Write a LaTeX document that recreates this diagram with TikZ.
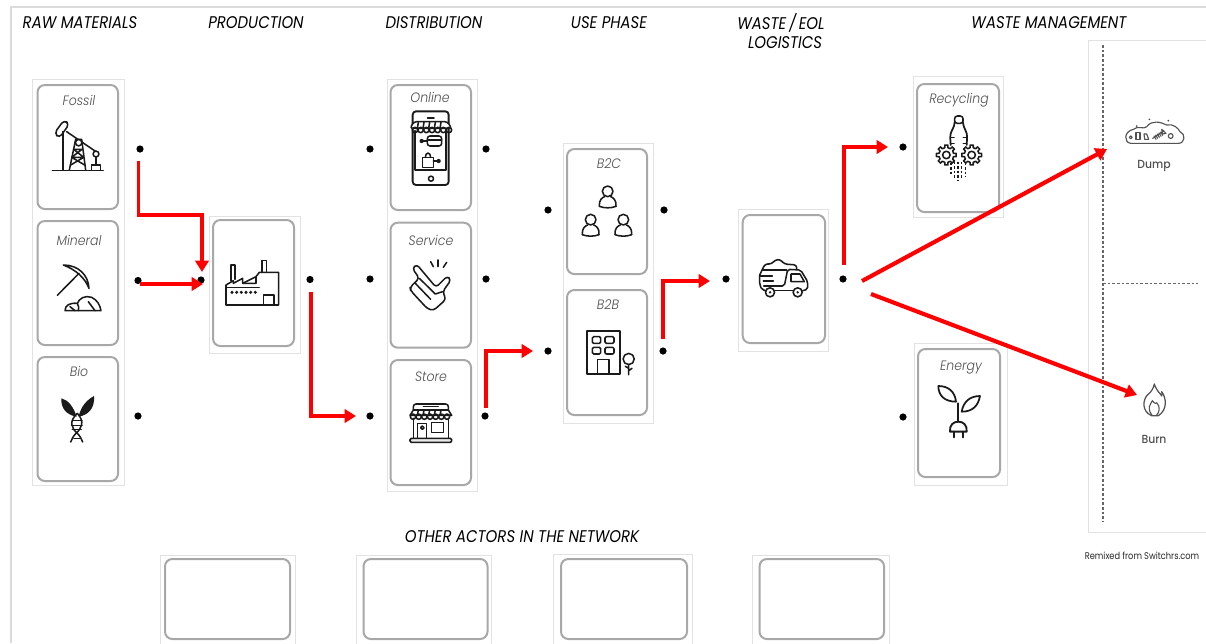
\documentclass[tikz,border=0pt]{standalone}
\usepackage{fontspec}
\setmainfont{Poppins}
\newfontfamily\headf[FakeStretch=0.88]{Poppins}
\newfontfamily\cardf[FakeStretch=0.92]{Poppins Light}
\newfontfamily\smallf[FakeStretch=0.85]{Poppins}
\newfontfamily\tagf[FakeStretch=0.92]{Poppins Medium}
\usetikzlibrary{arrows.meta}
\definecolor{cardgray}{HTML}{A8A8A8}
\definecolor{framegray}{HTML}{E2E2E2}
\definecolor{labgray}{HTML}{505050}
\definecolor{iconink}{HTML}{1A1A1A}
\tikzset{
 card/.style={draw=cardgray,line width=1.5pt,rounded corners=5.5pt,fill=white,inner sep=0pt,outer sep=0pt,anchor=north west},
 framebox/.style={draw=framegray,line width=0.6pt,fill=white,inner sep=0pt,outer sep=0pt,anchor=north west},
 hd/.style={font=\headf\itshape\fontsize{12.7}{15}\selectfont,text=black,inner sep=0pt,align=center},
 lab/.style={font=\cardf\itshape\fontsize{10.2}{12}\selectfont,text=labgray,inner sep=0pt},
 sm/.style={font=\smallf\fontsize{7.3}{9}\selectfont,text=black!85,inner sep=0pt},
 tagl/.style={font=\tagf\fontsize{8.8}{10}\selectfont,text=labgray,inner sep=0pt},
 pin/.style={circle,fill=black,inner sep=0pt,minimum size=5.4pt},
 flow/.style={draw=red,line width=2.8pt,-{Triangle[length=8.5pt,width=10pt]},miter limit=4},
 flowd/.style={flow,line width=3.1pt},
 ic/.style={draw=iconink,line width=1.15pt,line join=round,line cap=round},
 icthin/.style={draw=iconink!75,line width=.85pt,line join=round,line cap=round},
 divider/.style={draw=black!60,line width=0.9pt,dash pattern=on 2pt off 1.5pt},
 zoomone/.style={shift={(20,70)},x=.25pt,y=-.25pt},
 zoomtwo/.style={shift={(370,70)},x=.25pt,y=-.25pt},
 zoomthree/.style={shift={(720,30)},x=.25pt,y=-.25pt},
}
\newcommand{\fbx}[5]{\node[framebox,minimum width=#4*.75pt,minimum height=#5*.75pt] (#1) at (#2,#3) {};}
\newcommand{\crd}[5]{\node[card,minimum width=#4*.75pt,minimum height=#5*.75pt] (#1) at (#2,#3) {};}
\begin{document}
\begin{tikzpicture}[x=.75pt,y=-.75pt]
\useasboundingbox (0,0) rectangle (1206,643);
\fill[white] (0,0) rectangle (1206,643);
% outer sheet edge
\coordinate (ruleB) at (11,643); \coordinate (ruleL) at (11,7); \coordinate (ruleR) at (1206,7);
\draw[draw=black!14,line width=1.5pt] (ruleB) -- (ruleL) -- (ruleR);
% frames
\fbx{fA}{32}{79}{92.5}{406}
\fbx{fB}{209.5}{216}{90.5}{137}
\fbx{fC}{387}{79}{90}{412}
\fbx{fD}{563.5}{143.5}{89.5}{279.5}
\fbx{fE}{738.5}{209.5}{89.5}{141.5}
\fbx{fF}{913}{76.5}{90}{140.5}
\fbx{fG}{914}{343}{93}{142}
\fbx{fO}{160}{555}{135}{90}
\fbx{fP}{356}{555}{135}{90}
\fbx{fQ}{553}{554}{139}{91}
\fbx{fR}{752}{555}{137}{90}
\coordinate (wmA) at (1206,40); \coordinate (wmB) at (1088.5,40); \coordinate (wmC) at (1088.5,532); \coordinate (wmD) at (1206,532);
\draw[framegray,line width=.6pt] (wmA) -- (wmB) -- (wmC) -- (wmD);
% cards
\crd{fossil}{37.5}{85}{80.5}{124}
\crd{mineral}{37.5}{221}{80.5}{124}
\crd{bio}{37.5}{357}{80.5}{124}
\crd{factory}{213}{220}{81}{126}
\crd{online}{390.5}{85}{80.5}{125}
\crd{service}{390.5}{222.7}{80.5}{125}
\crd{store}{390.5}{360}{80.5}{125}
\crd{btc}{567}{149}{80}{125}
\crd{btb}{567}{290}{80}{125}
\crd{truck}{742.7}{215}{82.3}{128}
\crd{recycling}{917}{84}{82}{128}
\crd{energy}{918}{349}{82}{128}
\crd{oa}{165}{559}{125}{80}
\crd{ob}{363.5}{559}{124}{80}
\crd{oc}{561}{559}{126}{80}
\crd{od}{759.5}{559}{124.5}{80}
% headers
\node[hd] (h1) at (80,23) {RAW MATERIALS};
\node[hd] (h2) at (256,23) {PRODUCTION};
\node[hd] (h3) at (434,23) {DISTRIBUTION};
\node[hd] (h4) at (609,23) {USE PHASE};
\node[hd] (h5) at (781,23) {\spaceskip=.16em WASTE / EOL};
\node[hd] (h5b) at (785,43) {LOGISTICS};
\node[hd] (h6) at (1049,23) {WASTE MANAGEMENT};
\node[hd] (h7) at (522,537) {OTHER ACTORS IN THE NETWORK};
\node[sm] (credit) at (1142,556) {Remixed from Switchrs.com};
% card labels
\node[lab] (l1) at (79,100) {Fossil};
\node[lab] (l2) at (79,240) {Mineral};
\node[lab] (l3) at (79,371) {Bio};
\node[lab] (l4) at (430,97) {Online};
\node[lab] (l5) at (431,240) {Service};
\node[lab] (l6) at (431,377) {Store};
\node[lab] (l7) at (609,164) {B2C};
\node[lab] (l8) at (608,305) {B2B};
\node[lab] (l9) at (959,100) {Recycling};
\node[lab] (l10) at (961,368) {Energy};
\node[tagl] (dumpl) at (1154,166) {Dump};
\node[tagl] (burnl) at (1154,439) {Burn};
% dots
\foreach \n/\x/\y in {a/140/149,b/138/280.5,c/138/416,d/201/280,e/310/279.5,f/370/149,g/370/279,h/370/416,i/486/149,j/486/279,k/485/416,l/548/210,m/664/210,n/548/351,o/663/351,p/726/279,q/843/279,r/903/147,s/903/417}
  \node[pin] (dot\n) at (\x,\y) {};
% dividers
\coordinate (dvT) at (1103,45); \coordinate (dvB) at (1103,522); \coordinate (dvM) at (1103,283.5); \coordinate (dvR) at (1198,283.5);
\draw[divider] (dvT) -- (dvB);
\draw[divider] (dvM) -- (dvR);
% ---------- icons ----------
% oil pump
\begin{scope}[zoomone]
\draw[ic] (97,301) -- (250,301);
\draw[ic,line width=1.3pt] (128,185) -- (128,300);
\draw[ic,rounded corners=3pt] (103,190) -- (132,150) -- (148,162) -- (118,204) -- cycle;
\draw[ic] (140,185) -- (228,245);
\draw[ic] (148,300) -- (167,208) -- (185,208) -- (197,300);
\draw[ic] (155,262) -- (191,262) (161,238) -- (186,238) (152,285) -- (191,262) (155,262) -- (194,285) (161,238) -- (191,262) (186,238) -- (155,262);
\draw[ic,fill=white] (176,218) circle (2.4pt);
\draw[ic,fill=white] (228,252) circle (2.2pt);
\draw[ic] (228,260) -- (228,285);
\draw[ic] (215,300) -- (215,285) -- (241,285) -- (241,300);
\end{scope}
% pickaxe
\begin{scope}[zoomone]
\draw[ic] (112,676) -- (177,610);
\draw[ic] (130,585) .. controls (175,585) and (205,615) .. (207,655) .. controls (195,625) and (170,600) .. (130,585) -- cycle;
\draw[ic] (135,722) .. controls (135,705) and (150,698) .. (172,700) .. controls (178,685) and (195,675) .. (215,682) .. controls (232,690) and (240,705) .. (243,722) -- cycle;
\draw[ic] (172,700) .. controls (176,708) and (178,715) .. (175,722);
\draw[ic] (205,695) -- (225,722) (150,710) -- (165,722);
\end{scope}
% bio dna
\begin{scope}[zoomone]
\fill[iconink] (170,1040) .. controls (160,1010) and (145,990) .. (124,985) .. controls (122,1015) and (140,1035) .. (170,1040) -- cycle;
\fill[iconink] (176,1040) .. controls (182,1010) and (200,990) .. (222,978) .. controls (225,1015) and (205,1035) .. (176,1040) -- cycle;
\draw[ic] (172,1030) .. controls (145,1055) and (155,1075) .. (172,1090) .. controls (180,1098) and (185,1108) .. (188,1116);
\draw[ic] (172,1030) .. controls (195,1055) and (185,1075) .. (168,1090) .. controls (160,1098) and (155,1108) .. (152,1116);
\draw[ic] (158,1052) -- (186,1052) (155,1066) -- (186,1066) (157,1079) -- (184,1079) (162,1105) -- (180,1105);
\end{scope}
% factory
\begin{scope}[zoomone]
\draw[ic] (618,705) -- (776,705) -- (776,607) -- (718,607) -- (708,620) -- (708,640) -- (668,640) -- (668,625) -- (640,640) -- (640,632) -- (618,645) -- cycle;
\draw[ic] (668,640) -- (708,620);
\draw[ic] (633,632) -- (633,585) -- (645,585) -- (645,628);
\draw[ic] (726,607) -- (726,572) -- (740,572) -- (740,607);
\draw[ic] (618,652) -- (718,652);
\draw[ic] (730,705) -- (730,675) -- (762,675) -- (762,705);
\foreach \dx in {636,650,664,678,692,706} \fill[iconink] (\dx,667) circle (1.3pt);
\end{scope}
% online phone
\begin{scope}[zoomtwo]
\draw[ic,line width=1.4pt,rounded corners=2.5pt] (128,124) rectangle (236,345);
\draw[ic] (135,182) -- (135,300) -- (228,300) -- (228,182);
\draw[ic,line width=1.3pt] (173,143) -- (192,143);
\draw[ic] (183,326) circle (1.9pt);
\draw[ic,fill=white,rounded corners=2pt] (132,155) -- (232,155) -- (245,175) -- (120,175) -- cycle;
\foreach \dx in {128,145,162,179,196,213,230} \draw[ic] (\dx+7,180) circle (2pt);
\foreach \dx in {145,162,179,196,213} \draw[ic] (\dx,157) -- (\dx-3,175);
\draw[ic,rounded corners=2pt] (172,198) rectangle (215,228);
\draw[ic] (172,210) -- (215,210);
\fill[iconink] (155,213) circle (1.6pt);
\draw[ic] (158,213) -- (172,213);
\draw[ic] (158,262) -- (190,262) -- (190,293) -- (158,293) -- cycle;
\draw[ic] (166,262) .. controls (166,245) and (182,245) .. (182,262);
\fill[iconink] (206,273) circle (1.6pt);
\draw[ic] (190,273) -- (206,273);
\end{scope}
% service hand
\begin{scope}[zoomtwo]
\draw[ic,rounded corners=2.5pt] (127,595) -- (140,583) -- (198,652) -- (232,618) -- (243,630) -- (218,665) -- (228,688) -- (190,722) -- (172,716) -- (122,662) -- (120,652) -- (134,638) -- (148,625) -- cycle;
\draw[ic] (134,638) -- (182,688) (148,625) -- (196,672) (196,672) -- (218,665);
\draw[ic] (182,575) -- (190,590) (204,570) -- (204,590) (230,577) -- (220,592);
\end{scope}
% store
\begin{scope}[zoomtwo]
\draw[ic,rounded corners=2pt] (130,1020) -- (130,1002) -- (235,1002) -- (235,1020);
\draw[ic,line width=1.2pt] (160,1010) -- (205,1010);
\draw[ic,fill=white] (130,1020) -- (235,1020) -- (245,1036) -- (120,1036) -- cycle;
\foreach \dx in {145,162,179,196,213} \draw[ic] (\dx,1020) -- (\dx-3,1036);
\foreach \dx in {129,146,163,180,197,214,231} \draw[ic] (\dx,1040) circle (2pt);
\draw[ic] (130,1045) -- (130,1105) (235,1045) -- (235,1105);
\draw[ic] (143,1105) -- (143,1060) -- (170,1060) -- (170,1105);
\draw[ic] (157,1073) circle (1.3pt);
\draw[ic] (185,1058) rectangle (220,1088);
\draw[ic,fill=iconink!10,rounded corners=1pt] (120,1105) rectangle (245,1117);
\end{scope}
% b2c people
\begin{scope}[zoomtwo]
\foreach \px/\py in {713/347,662/432,760/432}{
  \draw[ic] (\px,\py+17) circle (4pt);
  \draw[ic] (\px-25,\py+62) .. controls (\px-27,\py+42) and (\px-15,\py+35) .. (\px-9,\py+33) (\px+9,\py+33) .. controls (\px+15,\py+35) and (\px+27,\py+42) .. (\px+25,\py+62);
  \draw[ic] (\px-25,\py+62) .. controls (\px-10,\py+68) and (\px+10,\py+68) .. (\px+25,\py+62);
}
\end{scope}
% b2b building
\begin{scope}[zoomtwo]
\draw[ic,line width=1.3pt] (650,912) -- (650,782) -- (750,782) -- (750,912) -- cycle;
\draw[ic,rounded corners=1pt] (667,800) rectangle (692,820) (705,800) rectangle (732,820) (667,832) rectangle (692,852) (705,832) rectangle (732,852);
\draw[ic] (682,912) -- (682,868) -- (717,868) -- (717,912);
\draw[ic] (776,867) circle (4.2pt);
\draw[ic] (776,884) -- (776,914) (776,902) -- (786,895) (776,895) -- (766,889);
\end{scope}
% truck
\begin{scope}[shift={(755,250)},x=.25pt,y=-.25pt]
\draw[ic,rounded corners=1.5pt] (14,75) -- (14,105) -- (22,120) -- (32,122);
\draw[ic] (58,122) -- (113,122);
\draw[ic,rounded corners=1.5pt] (143,122) -- (158,118) -- (158,95) -- (137,60) -- (98,58) -- (88,108) -- (26,108);
\draw[ic,rounded corners=2pt] (14,75) -- (30,42) -- (50,42) -- (60,30) -- (75,28) -- (88,42) -- (125,45) -- (125,58);
\draw[ic] (22,60) -- (95,60) (14,78) -- (52,78) (25,93) -- (55,93);
\draw[ic] (108,72) -- (135,72) -- (148,95) -- (108,95) -- cycle;
\draw[ic] (45,127) circle (3.4pt) (128,127) circle (3.4pt);
\fill[iconink] (45,127) circle (1pt) (128,127) circle (1pt);
\end{scope}
% recycling
\begin{scope}[zoomthree]
\draw[ic,rounded corners=2pt] (704,258) rectangle (729,280);
\draw[ic,line width=1.3pt,rounded corners=3pt] (704,280) -- (704,288) -- (690,310) -- (692,345);
\draw[ic,line width=1.3pt,rounded corners=3pt] (729,280) -- (729,288) -- (742,310) -- (740,345);
\draw[ic] (692,322) -- (702,322) (692,340) -- (702,340) (740,322) -- (730,322) (740,340) -- (730,340);
\foreach \cx in {679,755}{
  \begin{scope}[shift={(\cx,375)}]
  \draw[ic,fill=white,line join=round] (-12:5.6pt) \foreach \a in {0,45,...,315}{ -- (\a-12:5.6pt) -- (\a-9:7.5pt) -- (\a+9:7.5pt) -- (\a+12:5.6pt)} -- cycle;
  \draw[ic] (0,0) circle (2.8pt);
  \end{scope}
}
\foreach \dx/\ya/\yb in {693/398/438,703/395/445,714/395/450,725/395/448,736/398/442}
  \draw[ic,dash pattern=on 2pt off 1.4pt,line cap=butt] (\dx,\ya) -- (\dx,\yb);
\end{scope}
% energy
\begin{scope}[zoomthree]
\draw[ic,line width=1.3pt] (715,1120) -- (715,1175);
\draw[ic,line width=1.3pt] (708,1115) .. controls (705,1085) and (685,1068) .. (655,1068) .. controls (655,1095) and (672,1115) .. (708,1115) -- cycle;
\draw[ic,line width=1.3pt] (725,1145) .. controls (760,1145) and (775,1125) .. (780,1098) .. controls (750,1098) and (730,1115) .. (725,1145) -- cycle;
\draw[ic,line width=1.4pt] (690,1205) .. controls (688,1185) and (700,1175) .. (715,1175) .. controls (730,1175) and (742,1185) .. (740,1205) -- cycle;
\draw[ic,line width=1.4pt] (703,1205) -- (703,1222) (728,1205) -- (728,1222);
\end{scope}
% dump
\begin{scope}[zoomthree]
\draw[icthin] (1232,340) .. controls (1212,338) and (1210,305) .. (1240,298) .. controls (1255,285) and (1272,300) .. (1280,290) .. controls (1295,270) and (1320,275) .. (1340,285) .. controls (1360,280) and (1375,295) .. (1380,305) .. controls (1398,312) and (1395,340) .. (1375,340) -- cycle;
\draw[icthin] (1248,308) rectangle (1260,328);
\draw[icthin] (1272,312) -- (1280,312) -- (1286,328) -- (1274,328) -- cycle;
\draw[icthin] (1352,318) circle (1.8pt) (1232,322) circle (1.1pt);
\draw[icthin] (1298,325) -- (1332,302) (1325,298) -- (1338,310) -- (1328,312) -- cycle;
\foreach \t in {0,5,10,15,20} \draw[icthin] (1302+\t,318-\t*.6) -- (1308+\t,328-\t*.6);
\fill[iconink!80] (1288,268) circle (.7pt) (1250,288) circle (.7pt) (1345,272) circle (.7pt);
\end{scope}
% burn
\begin{scope}[zoomthree]
\draw[icthin,line width=.95pt] (1303,1062) .. controls (1310,1085) and (1322,1090) .. (1325,1098) .. controls (1328,1090) and (1325,1088) .. (1325,1085) .. controls (1340,1105) and (1342,1140) .. (1315,1157) -- (1295,1157) .. controls (1265,1145) and (1268,1110) .. (1282,1095) .. controls (1295,1085) and (1300,1075) .. (1303,1062) -- cycle;
\draw[icthin] (1296,1155) .. controls (1280,1135) and (1290,1125) .. (1297,1112) .. controls (1305,1125) and (1310,1118) .. (1310,1118) .. controls (1322,1130) and (1318,1148) .. (1310,1155);
\end{scope}
% ---------- connectors ----------
\coordinate (s1) at (138.5,161); \coordinate (e1) at (202,272);
\draw[flow] (s1) |- (170,215) -| (e1);
\coordinate (s2) at (140,284); \coordinate (e2) at (203,284);
\draw[flow] (s2) -- (e2);
\coordinate (s3) at (311,292); \coordinate (e3) at (356,416);
\draw[flow] (s3) |- (e3);
\coordinate (s4) at (486,408); \coordinate (e4) at (533,351);
\draw[flow] (s4) |- (e4);
\coordinate (s5) at (663,339); \coordinate (e5) at (710,281);
\draw[flow] (s5) |- (e5);
\coordinate (s6) at (844,265); \coordinate (e6) at (888,147);
\draw[flow] (s6) |- (e6);
\coordinate (s7) at (862,281); \coordinate (e7) at (1107,149);
\draw[flowd] (s7) -- (e7);
\coordinate (s8) at (871,294); \coordinate (e8) at (1137,395);
\draw[flowd] (s8) -- (e8);
\end{tikzpicture}
\end{document}
